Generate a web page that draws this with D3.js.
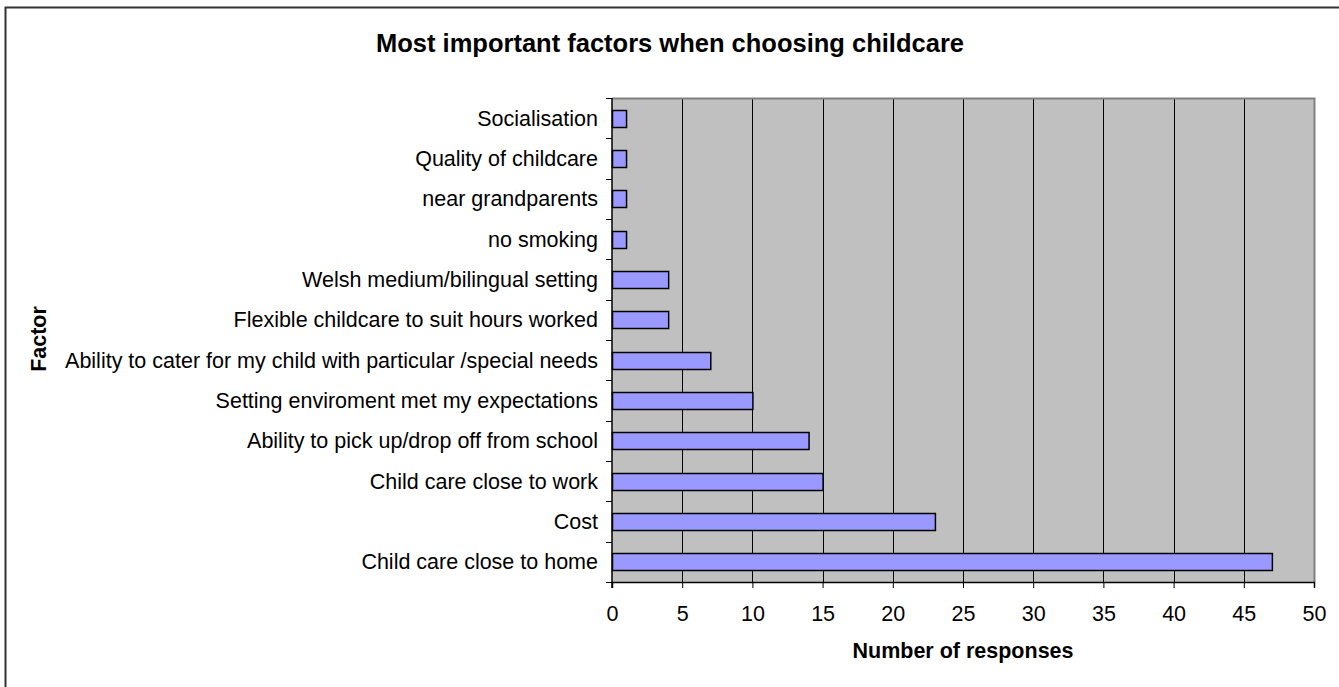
<!DOCTYPE html>
<html>
<head>
<meta charset="utf-8">
<script src="https://cdn.jsdelivr.net/npm/d3@7"></script>
<style>
  html, body { margin: 0; padding: 0; background: #fff; }
  svg { display: block; font-family: "Liberation Sans", Arial, sans-serif; }
</style>
</head>
<body>
<svg id="chart" width="1339" height="687"></svg>
<script>
// Factors, listed bottom to top as drawn
const categories = [
  "Child care close to home",
  "Cost",
  "Child care close to work",
  "Ability to pick up/drop off from school",
  "Setting enviroment met my expectations",
  "Ability to cater for my child with particular /special needs",
  "Flexible childcare to suit hours worked",
  "Welsh medium/bilingual setting",
  "no smoking",
  "near grandparents",
  "Quality of childcare",
  "Socialisation"
];
const responses = [47, 23, 15, 14, 10, 7, 4, 4, 1, 1, 1, 1];
const xTicks = [0, 5, 10, 15, 20, 25, 30, 35, 40, 45, 50];

const LABEL_SIZE = 21.5;
const svg = d3.select("#chart");

// Outer frame
svg.append("rect")
  .attr("x", 5.5).attr("y", 7.5)
  .attr("width", 1400).attr("height", 800)
  .attr("fill", "#fff").attr("stroke", "#333").attr("stroke-width", 2);

const plot = { left: 612, top: 98, right: 1314, bottom: 582 };

const x = d3.scaleLinear().domain([0, 50]).range([plot.left, plot.right]);
const y = d3.scaleBand()
  .domain(categories.slice().reverse())
  .range([plot.top, plot.bottom])
  .paddingInner(0.575).paddingOuter(0.2875);

// Plot background
svg.append("rect")
  .attr("x", plot.left).attr("y", plot.top)
  .attr("width", plot.right - plot.left).attr("height", plot.bottom - plot.top)
  .attr("fill", "#c0c0c0");

// Vertical gridlines
svg.append("g")
  .selectAll("line")
  .data(xTicks.filter(d => d > 0 && d < 50))
  .join("line")
  .attr("x1", d => Math.round(x(d)) + 0.5).attr("x2", d => Math.round(x(d)) + 0.5)
  .attr("y1", plot.top).attr("y2", plot.bottom)
  .attr("stroke", "#000").attr("stroke-width", 1);

// Plot border (top and right)
svg.append("path")
  .attr("d", `M${plot.left},${plot.top + 0.5}H${plot.right + 0.5}V${plot.bottom}`)
  .attr("fill", "none").attr("stroke", "#808080").attr("stroke-width", 2);

// Bars
svg.append("g")
  .selectAll("rect")
  .data(categories.map((c, i) => ({ c, v: responses[i] })))
  .join("rect")
  .attr("x", x(0) + 0.5)
  .attr("y", d => Math.round(y(d.c)) + 0.5)
  .attr("width", d => x(d.v) - x(0))
  .attr("height", Math.round(y.bandwidth()))
  .attr("fill", "#9999ff")
  .attr("stroke", "#000").attr("stroke-width", 1.5);

// X axis
const xAxis = svg.append("g")
  .attr("transform", `translate(0,${plot.bottom})`)
  .call(d3.axisBottom(x).tickValues(xTicks).tickSize(6).tickFormat(d3.format("d")));
xAxis.attr("font-size", null).attr("font-family", null);
xAxis.select(".domain").attr("stroke", "#000").attr("stroke-width", 1.5);
xAxis.selectAll(".tick line").attr("stroke", "#000");
xAxis.selectAll("text")
  .attr("dy", null).attr("y", 39)
  .style("font-size", LABEL_SIZE + "px").attr("fill", "#000");

// Y axis: ticks sit on category boundaries
const boundaries = d3.range(categories.length + 1).map(i => plot.top + i * (plot.bottom - plot.top) / categories.length);
const yAxis = svg.append("g");
yAxis.append("line")
  .attr("x1", plot.left).attr("x2", plot.left)
  .attr("y1", plot.top).attr("y2", plot.bottom + 6)
  .attr("stroke", "#000").attr("stroke-width", 1.5);
yAxis.selectAll("line.tk")
  .data(boundaries)
  .join("line").attr("class", "tk")
  .attr("x1", plot.left - 6).attr("x2", plot.left)
  .attr("y1", d => Math.round(d) + 0.5).attr("y2", d => Math.round(d) + 0.5)
  .attr("stroke", "#000");
yAxis.selectAll("text")
  .data(categories)
  .join("text")
  .attr("x", plot.left - 14)
  .attr("y", d => y(d) + y.bandwidth() / 2)
  .attr("dy", "0.35em")
  .attr("text-anchor", "end")
  .style("font-size", LABEL_SIZE + "px")
  .attr("fill", "#000")
  .text(d => d);

// Title
svg.append("text")
  .attr("x", 670).attr("y", 52)
  .attr("text-anchor", "middle")
  .style("font-size", "25.5px").attr("font-weight", "bold")
  .text("Most important factors when choosing childcare");

// Axis titles
svg.append("text")
  .attr("x", (plot.left + plot.right) / 2).attr("y", 658)
  .attr("text-anchor", "middle")
  .style("font-size", "21.5px").attr("font-weight", "bold")
  .text("Number of responses");

svg.append("text")
  .attr("transform", `translate(46,339) rotate(-90)`)
  .attr("text-anchor", "middle")
  .style("font-size", "21.5px").attr("font-weight", "bold")
  .text("Factor");
</script>
</body>
</html>
